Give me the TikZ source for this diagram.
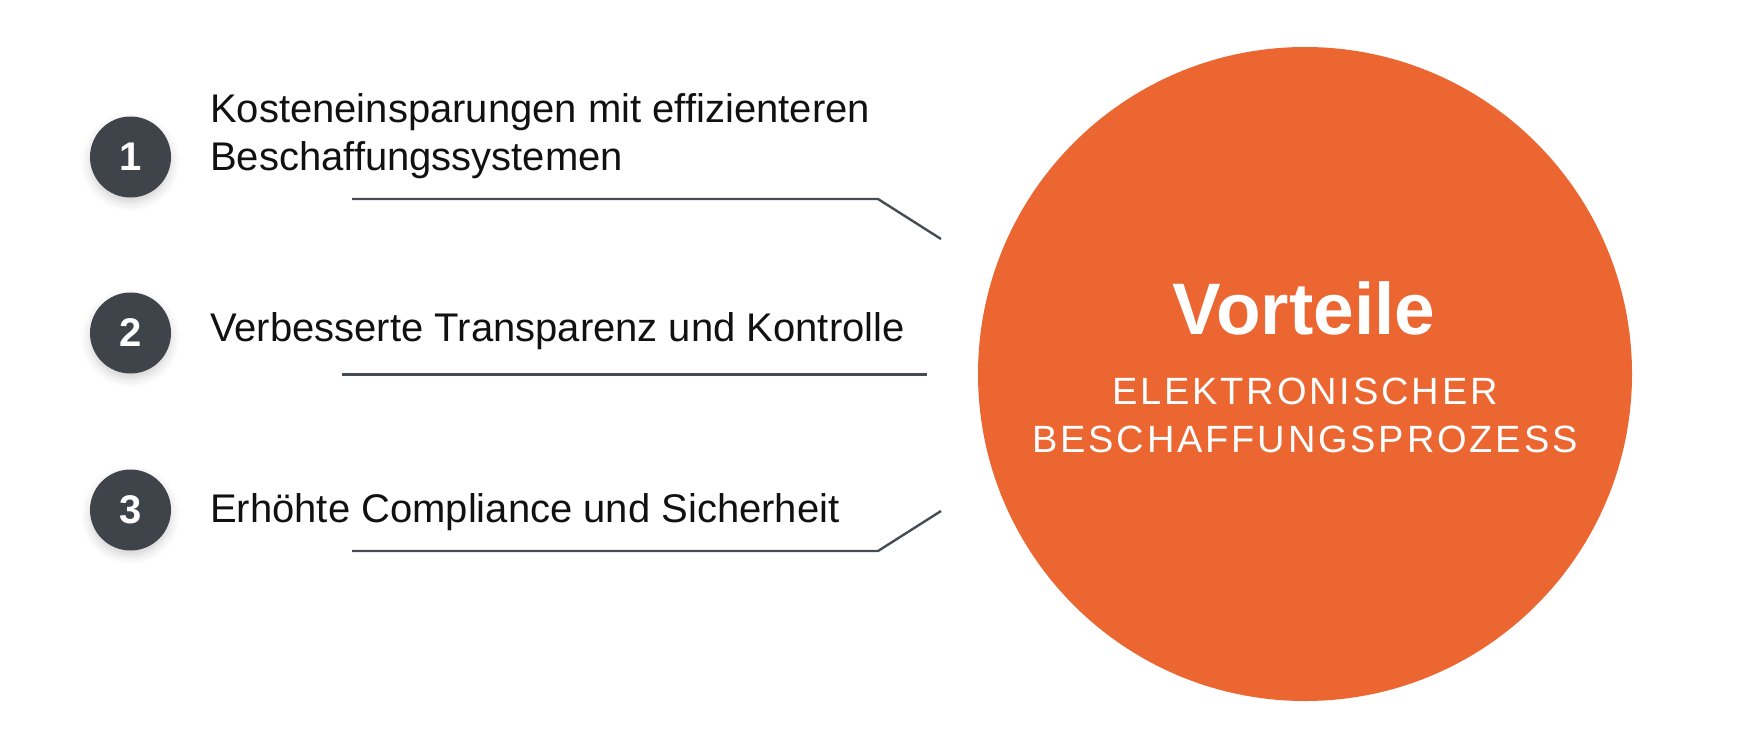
\documentclass[tikz,border=0pt]{standalone}
\usepackage{fontspec}
\setmainfont{Liberation Sans}
\usetikzlibrary{shadows.blur}
\definecolor{orangeC}{HTML}{EB6631}
\definecolor{darkC}{HTML}{3F444B}
\definecolor{lineC}{HTML}{474C52}
\definecolor{txtC}{HTML}{111111}
\begin{document}
\begin{tikzpicture}[x=1pt,y=-1pt,
  numc/.style={circle, fill=darkC, minimum size=81pt, inner sep=0pt, text=white,
    font=\fontsize{40}{40}\selectfont\bfseries,
    blur shadow={shadow xshift=0pt, shadow yshift=-5pt, shadow blur radius=9pt, shadow opacity=18}},
  itemtxt/.style={anchor=base west, align=left, inner sep=0pt,
    font=\fontsize{40}{47.5}\selectfont, text=txtC},
  conn/.style={draw=lineC, line width=2.4pt}]
\useasboundingbox (0,0) rectangle (1750,750);
% big circle
\node[circle, fill=orangeC, minimum size=654pt, inner sep=0pt] (adv) at (1305,374) {};
\node[text=white, inner sep=0pt, anchor=base, font=\fontsize{73}{73}\selectfont\bfseries] (vt) at (1304,334) {Vorteile};
\node[text=white, inner sep=0pt, anchor=base, align=center,
  font=\addfontfeatures{LetterSpace=7.5}\fontsize{38}{48}\selectfont] (sub) at (1305,452) {ELEKTRONISCHER\\BESCHAFFUNGSPROZESS};
% numbered circles
\node[numc] (n1) at (130.5,157) {1};
\node[numc] (n2) at (130.5,333) {2};
\node[numc] (n3) at (130.5,510) {3};
% item texts
\node[itemtxt] (t1) at (210,170) {Kosteneinsparungen mit effizienteren\\Beschaffungssystemen};
\node[itemtxt] (t2) at (210,341) {Verbesserte Transparenz und Kontrolle};
\node[itemtxt] (t3) at (210,522) {Erhöhte Compliance und Sicherheit};
% connector lines
\coordinate (l1a) at (352,199);
\coordinate (l1b) at (878,199);
\coordinate (l1c) at (941,239);
\coordinate (l2a) at (342,374.5);
\coordinate (l2b) at (927,374.5);
\coordinate (l3a) at (352,551);
\coordinate (l3b) at (878,551);
\coordinate (l3c) at (941,511);
\draw[conn] (l1a) -- (l1b) -- (l1c);
\draw[conn] (l2a) -- (l2b);
\draw[conn] (l3a) -- (l3b) -- (l3c);
\end{tikzpicture}
\end{document}
